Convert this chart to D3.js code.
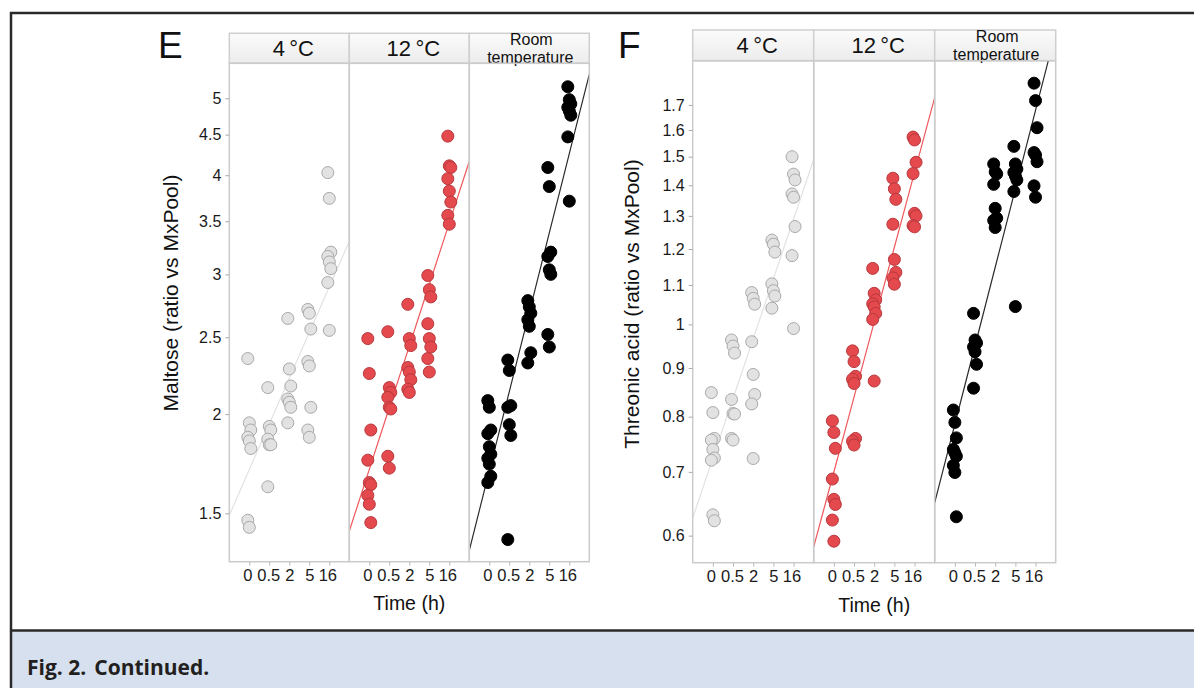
<!DOCTYPE html>
<html>
<head>
<meta charset="utf-8">
<script src="https://cdn.jsdelivr.net/npm/d3@7"></script>
<style>
  body { margin: 0; background: #fff; }
  svg { display: block; font-family: "Liberation Sans", Arial, sans-serif; }
</style>
</head>
<body>
<script>
// time points and storage conditions
const times = ["0", "0.5", "2", "5", "16"];
const conditions = ["4\u2009°C", "12\u2009°C", "Room temperature"];

// maltose (ratio vs MxPool), one inner array per time point
const maltose4C = [
  [2.35, 1.95, 1.91, 1.87, 1.85, 1.81, 1.47, 1.44],
  [2.16, 1.93, 1.91, 1.86, 1.83, 1.83, 1.62],
  [2.64, 2.28, 2.17, 2.09, 2.07, 2.04, 1.95],
  [2.71, 2.68, 2.56, 2.33, 2.30, 2.04, 1.91, 1.87],
  [4.03, 3.74, 3.20, 3.16, 3.11, 3.05, 2.93, 2.55]
];
const maltose12C = [
  [2.49, 2.25, 1.91, 1.75, 1.64, 1.63, 1.58, 1.54, 1.46],
  [2.54, 2.16, 2.13, 2.10, 2.04, 2.03, 1.77, 1.71],
  [2.75, 2.49, 2.44, 2.29, 2.26, 2.21, 2.15, 2.13],
  [2.99, 2.87, 2.81, 2.60, 2.49, 2.43, 2.35, 2.26],
  [4.48, 4.11, 4.09, 3.96, 3.82, 3.70, 3.56, 3.47]
];
const maltoseRT = [
  [2.08, 2.04, 1.91, 1.89, 1.82, 1.78, 1.76, 1.73, 1.67, 1.64],
  [2.34, 2.27, 2.05, 2.04, 1.94, 1.88, 1.39],
  [2.78, 2.73, 2.68, 2.63, 2.58, 2.39, 2.32],
  [4.09, 3.87, 3.20, 3.16, 3.04, 3.00, 2.52, 2.43],
  [5.17, 4.98, 4.92, 4.87, 4.82, 4.76, 4.47, 3.71]
];

// threonic acid (ratio vs MxPool)
const threonic4C = [
  [0.848, 0.808, 0.759, 0.756, 0.739, 0.724, 0.720, 0.631, 0.622],
  [0.963, 0.949, 0.933, 0.834, 0.806, 0.805, 0.759, 0.756],
  [1.080, 1.065, 1.050, 0.959, 0.886, 0.844, 0.825, 0.723],
  [1.226, 1.214, 1.191, 1.103, 1.085, 1.071, 1.040],
  [1.500, 1.438, 1.418, 1.371, 1.360, 1.267, 1.181, 0.990]
];
const threonic12C = [
  [0.792, 0.770, 0.741, 0.688, 0.655, 0.647, 0.623, 0.592],
  [0.938, 0.914, 0.882, 0.876, 0.867, 0.759, 0.754, 0.747],
  [1.145, 1.078, 1.061, 1.051, 1.043, 1.027, 1.012, 0.872],
  [1.424, 1.388, 1.353, 1.274, 1.170, 1.134, 1.119, 1.102],
  [1.573, 1.562, 1.480, 1.440, 1.308, 1.300, 1.270, 1.266]
];
const threonicRT = [
  [0.813, 0.789, 0.760, 0.739, 0.733, 0.727, 0.711, 0.699, 0.628],
  [1.027, 0.963, 0.956, 0.947, 0.936, 0.908, 0.857],
  [1.474, 1.446, 1.439, 1.403, 1.324, 1.293, 1.286, 1.264],
  [1.538, 1.474, 1.456, 1.444, 1.432, 1.418, 1.379, 1.044],
  [1.792, 1.718, 1.609, 1.515, 1.506, 1.482, 1.398, 1.360]
];

const maltoseTicks = [1.5, 2, 2.5, 3, 3.5, 4, 4.5, 5];
const threonicTicks = [0.6, 0.7, 0.8, 0.9, 1, 1.1, 1.2, 1.3, 1.4, 1.5, 1.6, 1.7];

const styles = [
  { fill: "#e2e2e2", stroke: "#a9a9a9", line: "#e2e2e2" },
  { fill: "#e4494e", stroke: "#b8383c", line: "#f0585c" },
  { fill: "#000", stroke: "#000", line: "#2b2b2b" }
];

// small nudges so the crowded time labels read like the original
const tickNudge = { "0": -2, "0.5": -1, "16": -2 };

const svg = d3.select("body").append("svg")
  .attr("width", 1194).attr("height", 688);

// frame + caption band
svg.append("rect").attr("x", 11).attr("y", 631).attr("width", 1183).attr("height", 57)
  .attr("fill", "#d6e0ee");
svg.append("line").attr("x1", 10).attr("x2", 1194).attr("y1", 13).attr("y2", 13)
  .attr("stroke", "#2a2a2a").attr("stroke-width", 2.5);
svg.append("line").attr("x1", 10).attr("x2", 1194).attr("y1", 630.5).attr("y2", 630.5)
  .attr("stroke", "#2a2a2a").attr("stroke-width", 2.5);
svg.append("line").attr("x1", 11).attr("x2", 11).attr("y1", 12).attr("y2", 688)
  .attr("stroke", "#2a2a2a").attr("stroke-width", 2.5);

const cap = svg.append("text").attr("x", 27).attr("y", 675)
  .style("font-family", "'Open Sans', 'Noto Sans', sans-serif")
  .style("font-weight", 700).style("font-size", "21px").attr("fill", "#231f20");
cap.append("tspan").text("Fig. 2.");
cap.append("tspan").attr("dx", 8).text("Continued.");

// least squares of log(value) on time index
function fit(groups) {
  const pts = groups.flatMap((g, i) => g.map(v => [i, Math.log(v)]));
  const mx = d3.mean(pts, p => p[0]), my = d3.mean(pts, p => p[1]);
  const b = d3.sum(pts, p => (p[0] - mx) * (p[1] - my)) / d3.sum(pts, p => (p[0] - mx) ** 2);
  return i => Math.exp(my + b * (i - mx));
}

function figure(cfg) {
  const w = cfg.pw, h = cfg.ph;
  const g = svg.append("g").attr("transform", `translate(${cfg.left},${cfg.top})`);
  const y = d3.scaleLog().domain(cfg.domain).range([h, 0]);
  const xp = d3.scalePoint().domain(times).range([0, w]).padding(1);
  const xi = d3.scaleLinear().domain([-1, times.length]).range([0, w]);
  const hh = cfg.top - cfg.hdrTop;

  svg.append("text").attr("x", cfg.letterX).attr("y", cfg.letterY)
    .style("font-size", "37px").attr("fill", "#111").text(cfg.letter);

  cfg.series.forEach((groups, c) => {
    const pg = g.append("g").attr("transform", `translate(${c * w},0)`);
    const st = styles[c];

    // strip header
    const hd = pg.append("g").attr("transform", `translate(0,${-hh})`);
    hd.append("rect").attr("width", w).attr("height", hh)
      .attr("fill", "url(#hdr)").attr("stroke", "#cfcfcf").attr("stroke-width", 1.5);
    if (c < 2) {
      hd.append("text").attr("x", w / 2 + 4).attr("y", hh / 2 + 8)
        .attr("text-anchor", "middle").style("font-size", "22px").attr("fill", "#111")
        .text(conditions[c]);
    } else {
      const words = conditions[c].split(" ");
      hd.append("text").attr("x", w / 2 + 2).attr("y", hh / 2 - 3)
        .attr("text-anchor", "middle").style("font-size", "16px").attr("fill", "#111")
        .text(words[0]);
      hd.append("text").attr("x", w / 2 + 1).attr("y", hh / 2 + 15)
        .attr("text-anchor", "middle").style("font-size", "16px").attr("fill", "#111")
        .text(words[1]);
    }

    const cid = `clip-${cfg.letter}-${c}`;
    pg.append("clipPath").attr("id", cid).append("rect").attr("width", w).attr("height", h);

    const f = fit(groups);
    const idx = d3.range(-1, times.length + 0.01, 0.5);
    pg.append("path").attr("clip-path", `url(#${cid})`)
      .attr("d", d3.line().x(i => xi(i)).y(i => y(f(i)))(idx))
      .attr("fill", "none").attr("stroke", st.line).attr("stroke-width", 1.2);

    groups.forEach((vals, t) => {
      pg.selectAll(null).data(vals).enter().append("circle")
        .attr("cx", (d, j) => xp(times[t]) + ((j % 3) - 1) * 1.5)
        .attr("cy", d => y(d))
        .attr("r", 6)
        .attr("fill", st.fill).attr("stroke", st.stroke).attr("stroke-width", 1);
    });

    pg.append("rect").attr("width", w).attr("height", h)
      .attr("fill", "none").attr("stroke", "#cbcbcb").attr("stroke-width", 1.5);

    const xa = pg.append("g").attr("transform", `translate(0,${h})`)
      .call(d3.axisBottom(xp).tickSize(4).tickPadding(4));
    xa.select(".domain").remove();
    xa.selectAll(".tick line").attr("stroke", "#bbb");
    xa.selectAll(".tick text").style("font-size", "16.5px").attr("fill", "#1a1a1a")
      .attr("dx", d => tickNudge[d] || 0);
  });

  const ya = g.append("g")
    .call(d3.axisLeft(y).tickValues(cfg.ticks).tickFormat(d3.format("")).tickSize(4).tickPadding(4));
  ya.select(".domain").remove();
  ya.selectAll(".tick line").attr("stroke", "#aaa");
  ya.selectAll(".tick text").style("font-size", "16px").attr("fill", "#1a1a1a");

  svg.append("text")
    .attr("transform", `translate(${cfg.titleX},${cfg.titleY}) rotate(-90)`)
    .attr("text-anchor", "middle").style("font-size", "21px").attr("fill", "#111")
    .text(cfg.title);
  svg.append("text").attr("x", cfg.left + 1.5 * w).attr("y", cfg.timeY)
    .attr("text-anchor", "middle").style("font-size", "19.5px").attr("fill", "#111")
    .text("Time (h)");
}

const defs = svg.append("defs");
const grad = defs.append("linearGradient").attr("id", "hdr")
  .attr("x1", 0).attr("x2", 0).attr("y1", 0).attr("y2", 1);
grad.append("stop").attr("offset", 0).attr("stop-color", "#fbfbfb");
grad.append("stop").attr("offset", 1).attr("stop-color", "#ececec");

figure({
  letter: "E", letterX: 158, letterY: 58,
  left: 229.3, top: 63.3, hdrTop: 33.3, pw: 120, ph: 498.4,
  domain: [1.3035, 5.534], ticks: maltoseTicks,
  series: [maltose4C, maltose12C, maltoseRT],
  title: "Maltose (ratio vs MxPool)", titleX: 178, titleY: 293, timeY: 610
});
figure({
  letter: "F", letterX: 618, letterY: 58,
  left: 692.7, top: 60.7, hdrTop: 30, pw: 121, ph: 502,
  domain: [0.562, 1.892], ticks: threonicTicks,
  series: [threonic4C, threonic12C, threonicRT],
  title: "Threonic acid (ratio vs MxPool)", titleX: 639, titleY: 304, timeY: 612
});
</script>
</body>
</html>
